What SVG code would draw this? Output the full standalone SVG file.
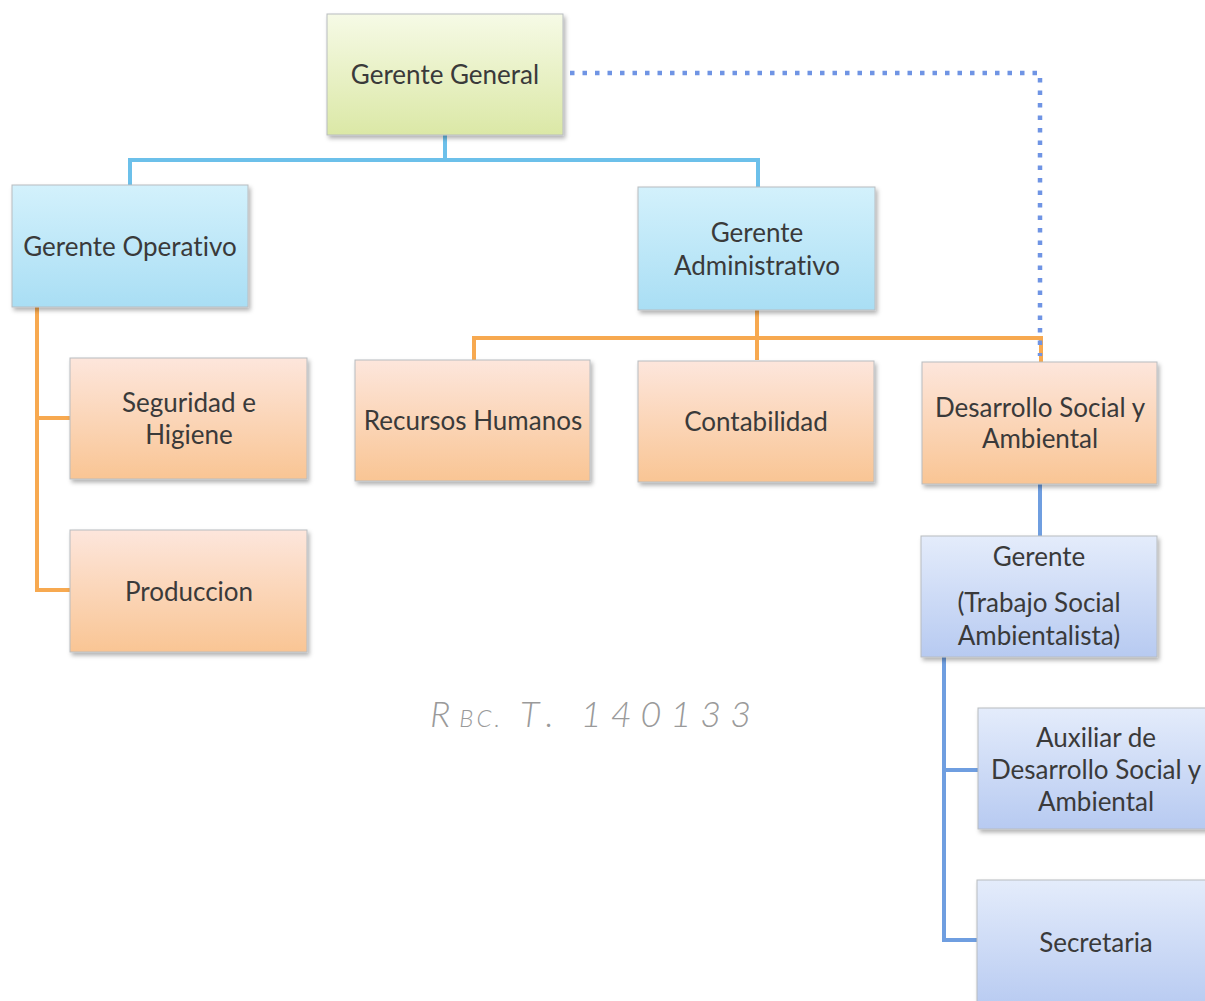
<svg xmlns="http://www.w3.org/2000/svg" width="1205" height="1001" viewBox="0 0 1205 1001">
<defs>
<linearGradient id="gYellow" x1="0" y1="0" x2="0" y2="1"><stop offset="0" stop-color="#f6fae6"/><stop offset="1" stop-color="#dbe8a6"/></linearGradient>
<linearGradient id="gCyan" x1="0" y1="0" x2="0" y2="1"><stop offset="0" stop-color="#d3f1fc"/><stop offset="1" stop-color="#a9def4"/></linearGradient>
<linearGradient id="gOrange" x1="0" y1="0" x2="0" y2="1"><stop offset="0" stop-color="#fde6dc"/><stop offset="1" stop-color="#f9c594"/></linearGradient>
<linearGradient id="gLav" x1="0" y1="0" x2="0" y2="1"><stop offset="0" stop-color="#e4ecfb"/><stop offset="1" stop-color="#b7caf1"/></linearGradient>
<filter id="sh" x="-5%" y="-5%" width="115%" height="120%"><feDropShadow dx="2" dy="3" stdDeviation="2" flood-color="#000" flood-opacity="0.3"/></filter>
</defs>
<style>
.box{stroke:#b8bcc0;stroke-width:1;filter:url(#sh)}
.t{font-family:Lato,"Open Sans","Liberation Sans",sans-serif;font-size:26px;fill:#3a3a3a;text-anchor:middle;dominant-baseline:central;font-variant-ligatures:none}
.blue{stroke:#6cc0ea;stroke-width:4;fill:none}
.orange{stroke:#f7a950;stroke-width:4;fill:none}
.dblue{stroke:#6f9ee0;stroke-width:4;fill:none}
.dot{stroke:#6f94e4;stroke-width:4.5;fill:none;stroke-dasharray:4.5 8}
</style>
<rect width="1205" height="1001" fill="#ffffff"/>
<g id="connectors">
<path class="blue" d="M445 135 V160 M130 185 V160 H758 V187"/>
<path class="orange" d="M757 310 V360 M474 360 V338 H1041 V362"/>
<path class="orange" d="M37 307 V590 H70 M37 418 H70"/>
<path class="dot" d="M570 73 H1040 V356"/>
<path class="dblue" d="M1040 484 V536"/>
<path class="dblue" d="M944 657 V940 H978 M944 770 H978"/>
</g>
<g id="n-gerente-general"><rect class="box" x="327" y="14" width="236" height="121" fill="url(#gYellow)"/><text class="t" x="445" y="74">Gerente General</text></g>
<g id="n-gerente-operativo"><rect class="box" x="12" y="185" width="236" height="122" fill="url(#gCyan)"/><text class="t" x="130" y="246">Gerente Operativo</text></g>
<g id="n-gerente-administrativo"><rect class="box" x="638" y="187" width="237" height="123" fill="url(#gCyan)"/><text class="t" x="757" y="232">Gerente</text><text class="t" x="757" y="265">Administrativo</text></g>
<g id="n-seguridad"><rect class="box" x="70" y="358" width="237" height="121" fill="url(#gOrange)"/><text class="t" x="189" y="402">Seguridad e</text><text class="t" x="189" y="434">Higiene</text></g>
<g id="n-produccion"><rect class="box" x="70" y="530" width="237" height="122" fill="url(#gOrange)"/><text class="t" x="189" y="591">Produccion</text></g>
<g id="n-recursos"><rect class="box" x="355" y="360" width="235" height="121" fill="url(#gOrange)"/><text class="t" x="473" y="420">Recursos Humanos</text></g>
<g id="n-contabilidad"><rect class="box" x="638" y="361" width="236" height="121" fill="url(#gOrange)"/><text class="t" x="756" y="421">Contabilidad</text></g>
<g id="n-desarrollo"><rect class="box" x="922" y="362" width="235" height="122" fill="url(#gOrange)"/><text class="t" x="1040" y="407">Desarrollo Social y</text><text class="t" x="1040" y="438">Ambiental</text></g>
<g id="n-gerente-tsa"><rect class="box" x="921" y="536" width="236" height="121" fill="url(#gLav)"/><text class="t" x="1039" y="556">Gerente</text><text class="t" x="1039" y="602">(Trabajo Social</text><text class="t" x="1039" y="635">Ambientalista)</text></g>
<g id="n-auxiliar"><rect class="box" x="978" y="708" width="240" height="121" fill="url(#gLav)"/><text class="t" x="1096" y="737">Auxiliar de</text><text class="t" x="1096" y="769">Desarrollo Social y</text><text class="t" x="1096" y="801">Ambiental</text></g>
<g id="n-secretaria"><rect class="box" x="977" y="880" width="240" height="130" fill="url(#gLav)"/><text class="t" x="1096" y="942">Secretaria</text></g>
<text x="430" y="727" font-family="Lato,'Liberation Sans',sans-serif" font-size="36" font-style="italic" font-weight="300" fill="#9a9a9a" letter-spacing="9">R<tspan font-size="24" letter-spacing="3">BC.</tspan> T. 140133</text>
</svg>
